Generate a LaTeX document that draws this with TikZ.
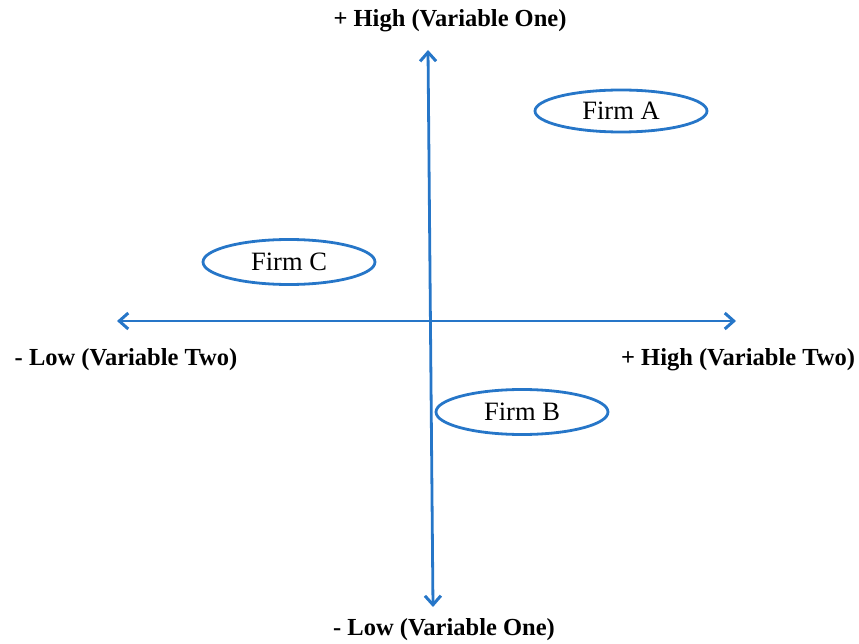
\documentclass[tikz,border=0pt]{standalone}
\usepackage{fontspec}
\setmainfont{Liberation Serif}
\usetikzlibrary{arrows.meta,shapes.geometric}
\definecolor{axisblue}{RGB}{38,118,200}
\begin{document}
\begin{tikzpicture}[x=1pt,y=-1pt,
  axisline/.style={draw=axisblue,line width=2.8pt,{Straight Barb[length=9pt,width=16pt,line width=3pt]}-{Straight Barb[length=9pt,width=16pt,line width=3pt]}},
  firm/.style={ellipse,draw=axisblue,line width=2.8pt,minimum width=172pt,minimum height=42pt,inner sep=0pt,font=\fontsize{26.5}{30}\selectfont},
  axlabel/.style={font=\fontsize{24.5}{29}\selectfont\bfseries,inner sep=0pt}]
\useasboundingbox (0,0) rectangle (859,644);
\coordinate (vt) at (428,50);
\coordinate (vb) at (433,607);
\coordinate (hl) at (117,321);
\coordinate (hr) at (736,321);
\draw[axisline] (vb) -- (vt);
\draw[axisline] (hl) -- (hr);
\node[axlabel] (top) at (450,21) {+ High (Variable One)};
\node[axlabel] (bot) at (444,630) {- Low (Variable One)};
\node[axlabel] (left) at (126,360) {- Low (Variable Two)};
\node[axlabel] (right) at (738,360) {+ High (Variable Two)};
\node[firm] (a) at (621,111) {Firm A};
\node[firm,minimum height=45pt] (c) at (289,262) {Firm C};
\node[firm,minimum height=45pt] (b) at (522,412) {Firm B};
\end{tikzpicture}
\end{document}
